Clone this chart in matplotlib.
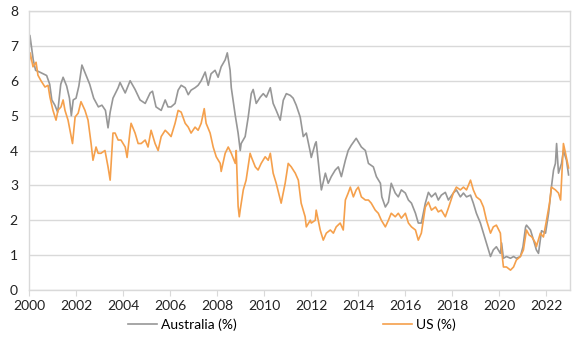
import matplotlib
matplotlib.use("Agg")
import matplotlib.pyplot as plt

# 10-year government bond yields (%)
aus_t = [2000.00, 2000.04, 2000.10, 2000.18, 2000.28, 2000.45, 2000.60, 2000.75, 2000.88, 2000.97,
         2001.10, 2001.22, 2001.35, 2001.45, 2001.60, 2001.72, 2001.80, 2001.88, 2002.00, 2002.12,
         2002.25, 2002.40, 2002.58, 2002.75, 2002.95, 2003.10, 2003.25, 2003.36, 2003.45, 2003.57,
         2003.79, 2003.87, 2004.09, 2004.30, 2004.51, 2004.72, 2004.94, 2005.15, 2005.25, 2005.40,
         2005.62, 2005.79, 2005.91, 2006.04, 2006.21, 2006.34, 2006.47, 2006.64, 2006.77, 2006.89,
         2007.06, 2007.19, 2007.32, 2007.49, 2007.62, 2007.74, 2007.91, 2008.04, 2008.17, 2008.34,
         2008.43, 2008.55, 2008.60, 2008.77, 2008.89, 2008.98, 2009.02, 2009.19, 2009.32, 2009.45,
         2009.53, 2009.66, 2009.83, 2009.96, 2010.09, 2010.26, 2010.38, 2010.51, 2010.68, 2010.81,
         2010.94, 2011.11, 2011.23, 2011.36, 2011.53, 2011.66, 2011.79, 2011.96, 2012.00, 2012.17,
         2012.21, 2012.38, 2012.43, 2012.60, 2012.72, 2012.85, 2013.02, 2013.15, 2013.28, 2013.45,
         2013.57, 2013.70, 2013.91, 2014.13, 2014.30, 2014.43, 2014.64, 2014.77, 2014.94, 2015.00,
         2015.15, 2015.28, 2015.40, 2015.57, 2015.70, 2015.83, 2016.00, 2016.13, 2016.26, 2016.43,
         2016.55, 2016.68, 2016.85, 2016.98, 2017.11, 2017.28, 2017.40, 2017.53, 2017.70, 2017.83,
         2018.04, 2018.17, 2018.34, 2018.47, 2018.60, 2018.77, 2018.89, 2019.02, 2019.19, 2019.32,
         2019.45, 2019.62, 2019.74, 2019.87, 2020.04, 2020.09, 2020.17, 2020.30, 2020.47, 2020.60,
         2020.72, 2020.89, 2021.00, 2021.11, 2021.15, 2021.32, 2021.45, 2021.57, 2021.66, 2021.79,
         2021.96, 2022.09, 2022.21, 2022.30, 2022.38, 2022.43, 2022.51, 2022.64, 2022.72, 2022.85,
         2022.94]
aus_v = [6.85, 7.30, 7.00, 6.60, 6.30, 6.25, 6.20, 6.15, 5.90, 5.45,
         5.30, 5.10, 5.90, 6.10, 5.85, 5.50, 5.00, 5.45, 5.50, 5.85,
         6.45, 6.20, 5.90, 5.50, 5.25, 5.30, 5.15, 4.65, 5.10, 5.50,
         5.80, 5.95, 5.65, 6.00, 5.75, 5.45, 5.35, 5.65, 5.70, 5.25,
         5.15, 5.45, 5.25, 5.25, 5.35, 5.73, 5.87, 5.80, 5.60, 5.73,
         5.80, 5.87, 6.00, 6.25, 5.87, 6.20, 6.30, 6.10, 6.40, 6.60,
         6.80, 6.30, 5.80, 5.00, 4.50, 4.00, 4.20, 4.40, 4.96, 5.63,
         5.75, 5.35, 5.53, 5.63, 5.53, 5.80, 5.35, 5.15, 4.87, 5.44,
         5.63, 5.58, 5.50, 5.30, 4.96, 4.40, 4.50, 3.95, 3.80, 4.20,
         4.25, 3.15, 2.87, 3.35, 3.06, 3.25, 3.44, 3.53, 3.25, 3.72,
         4.00, 4.15, 4.35, 4.10, 4.00, 3.63, 3.53, 3.25, 3.06, 2.67,
         2.38, 2.52, 3.06, 2.78, 2.67, 2.87, 2.78, 2.58, 2.49, 2.20,
         1.92, 1.92, 2.49, 2.80, 2.67, 2.78, 2.58, 2.72, 2.80, 2.58,
         2.78, 2.87, 2.67, 2.78, 2.67, 2.72, 2.49, 2.20, 1.92, 1.63,
         1.35, 0.96, 1.15, 1.24, 1.05, 1.35, 0.91, 0.96, 0.91, 0.96,
         0.91, 0.96, 1.24, 1.80, 1.86, 1.72, 1.43, 1.15, 1.05, 1.70,
         1.63, 2.20, 2.95, 3.44, 3.63, 4.20, 3.35, 3.63, 4.00, 3.72,
         3.30]

us_t = [2000.00, 2000.05, 2000.17, 2000.30, 2000.38, 2000.51, 2000.68, 2000.81, 2000.89, 2001.02,
        2001.15, 2001.23, 2001.36, 2001.45, 2001.53, 2001.66, 2001.79, 2001.85, 2001.96, 2002.09,
        2002.21, 2002.38, 2002.51, 2002.64, 2002.72, 2002.85, 2002.94, 2003.06, 2003.23, 2003.36,
        2003.45, 2003.57, 2003.66, 2003.79, 2003.91, 2004.09, 2004.17, 2004.30, 2004.34, 2004.51,
        2004.64, 2004.77, 2004.94, 2005.06, 2005.19, 2005.36, 2005.49, 2005.62, 2005.79, 2005.91,
        2006.04, 2006.21, 2006.34, 2006.47, 2006.64, 2006.77, 2006.89, 2007.06, 2007.19, 2007.32,
        2007.45, 2007.53, 2007.70, 2007.83, 2007.96, 2008.13, 2008.17, 2008.34, 2008.47, 2008.60,
        2008.77, 2008.81, 2008.89, 2008.94, 2008.98, 2009.11, 2009.23, 2009.40, 2009.45, 2009.62,
        2009.74, 2009.87, 2010.04, 2010.17, 2010.26, 2010.38, 2010.51, 2010.68, 2010.72, 2010.89,
        2011.02, 2011.15, 2011.32, 2011.45, 2011.57, 2011.74, 2011.79, 2011.96, 2012.00, 2012.17,
        2012.21, 2012.38, 2012.51, 2012.64, 2012.81, 2012.94, 2013.06, 2013.23, 2013.36, 2013.45,
        2013.57, 2013.66, 2013.79, 2013.91, 2014.00, 2014.13, 2014.30, 2014.43, 2014.55, 2014.72,
        2014.85, 2014.98, 2015.15, 2015.28, 2015.40, 2015.57, 2015.70, 2015.83, 2016.00, 2016.13,
        2016.26, 2016.43, 2016.55, 2016.68, 2016.85, 2016.98, 2017.11, 2017.28, 2017.40, 2017.53,
        2017.70, 2017.83, 2018.04, 2018.17, 2018.34, 2018.47, 2018.60, 2018.77, 2018.89, 2019.02,
        2019.19, 2019.32, 2019.45, 2019.62, 2019.74, 2019.87, 2020.04, 2020.09, 2020.17, 2020.30,
        2020.47, 2020.60, 2020.72, 2020.89, 2021.02, 2021.15, 2021.26, 2021.38, 2021.53, 2021.57,
        2021.74, 2021.87, 2021.98, 2022.13, 2022.21, 2022.38, 2022.51, 2022.60, 2022.72, 2022.81,
        2022.94]
us_v = [6.45, 6.80, 6.40, 6.53, 6.16, 6.00, 5.82, 5.87, 5.53, 5.15,
        4.87, 5.15, 5.25, 5.45, 5.15, 4.87, 4.40, 4.20, 4.96, 5.07,
        5.40, 5.15, 4.87, 4.20, 3.72, 4.10, 3.92, 3.92, 4.00, 3.53,
        3.15, 4.50, 4.50, 4.30, 4.30, 4.10, 3.80, 4.58, 4.78, 4.50,
        4.20, 4.20, 4.30, 4.10, 4.58, 4.20, 4.00, 4.40, 4.58, 4.50,
        4.40, 4.78, 5.15, 5.10, 4.78, 4.67, 4.50, 4.67, 4.58, 4.78,
        5.20, 4.78, 4.50, 4.10, 3.82, 3.63, 3.40, 3.92, 4.10, 3.92,
        3.63, 4.00, 2.40, 2.10, 2.30, 2.87, 3.15, 3.92, 3.82, 3.53,
        3.44, 3.63, 3.82, 3.72, 3.92, 3.35, 3.06, 2.60, 2.49, 3.06,
        3.63, 3.53, 3.35, 3.15, 2.49, 2.10, 1.81, 2.00, 1.92, 2.00,
        2.29, 1.72, 1.43, 1.63, 1.72, 1.63, 1.81, 1.92, 1.72, 2.58,
        2.78, 2.95, 2.67, 2.87, 2.95, 2.67, 2.58, 2.58, 2.49, 2.29,
        2.20, 2.00, 1.81, 2.00, 2.20, 2.10, 2.20, 2.06, 2.20, 1.92,
        1.81, 1.72, 1.43, 1.63, 2.38, 2.52, 2.29, 2.38, 2.24, 2.29,
        2.10, 2.35, 2.78, 2.95, 2.87, 2.95, 2.87, 3.15, 2.87, 2.67,
        2.58, 2.38, 2.00, 1.63, 1.81, 1.86, 1.63, 1.15, 0.66, 0.66,
        0.57, 0.66, 0.86, 0.96, 1.15, 1.72, 1.58, 1.52, 1.35, 1.24,
        1.63, 1.52, 1.92, 2.49, 2.95, 2.87, 2.78, 2.58, 4.20, 3.92,
        3.50]

year_ticks = list(range(2000, 2023, 2))
y_ticks = list(range(0, 9))

plt.rcParams['font.family'] = ['Lato', 'DejaVu Sans']

fig = plt.figure(figsize=(5.8, 3.46), dpi=100)
ax = fig.add_axes([29/580, 56/346, 541/580, 279/346])

grid_col = '#d9d9d9'
ax.plot(aus_t, aus_v, color='#979797', lw=1.2, label='Australia (%)')
ax.plot(us_t, us_v, color='#f5a04c', lw=1.2, label='US (%)')

ax.set_xlim(2000, 2023)
ax.set_ylim(0, 8)
ax.set_xticks(year_ticks)
ax.set_xticklabels([str(y) for y in year_ticks])
ax.set_yticks(y_ticks)
ax.yaxis.grid(True, color=grid_col, lw=1)
ax.set_axisbelow(True)
for s in ax.spines.values():
    s.set_color(grid_col)
    s.set_linewidth(1)
ax.tick_params(axis='x', direction='out', length=4, color=grid_col, labelsize=10, pad=3, labelcolor='#222222')
ax.tick_params(axis='y', length=0, labelsize=10, pad=8, labelcolor='#222222')

fig.legend(loc='center', bbox_to_anchor=(292/580, 1-325/346), ncol=2, frameon=False,
           fontsize=10, handlelength=2.1, handletextpad=0.3, columnspacing=10.5)

fig.savefig('out.png', dpi=100)
